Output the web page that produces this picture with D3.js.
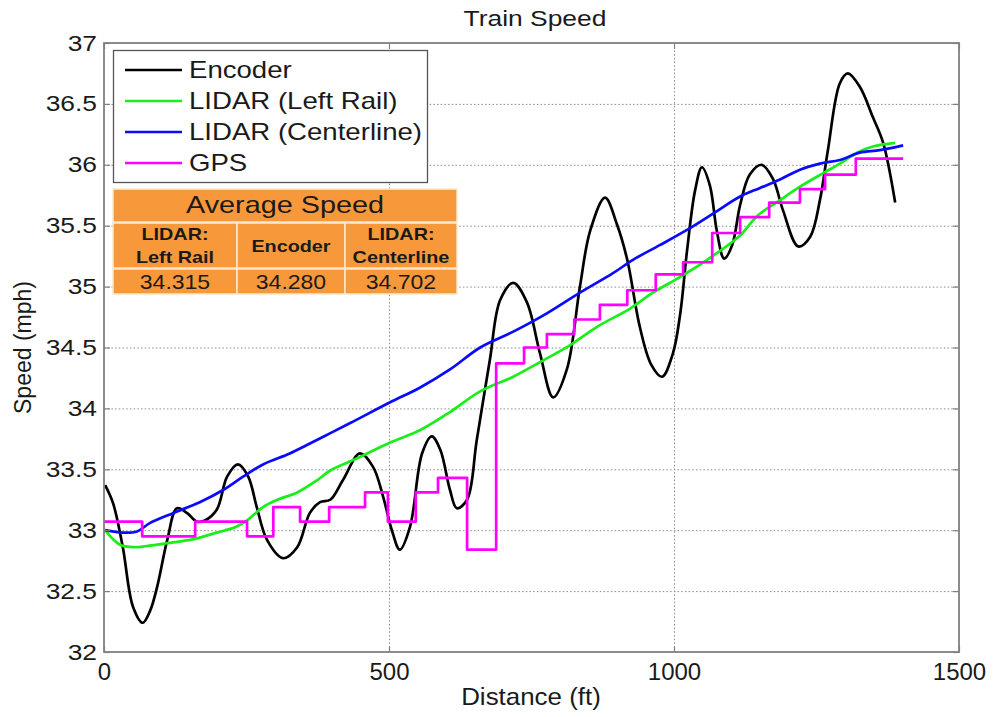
<!DOCTYPE html>
<html>
<head>
<meta charset="utf-8">
<script src="https://cdn.jsdelivr.net/npm/d3@7"></script>
<style>
  html, body { margin: 0; padding: 0; background: #fff; }
  svg { display: block; }
  text { font-family: Arial, "Liberation Sans", Helvetica, sans-serif; fill: #1a1a1a; }
</style>
</head>
<body>
<svg id="chart" width="994" height="717"></svg>
<script>
// ---- data ----
const distanceTicks = [0, 500, 1000, 1500];
const speedTicks = [32, 32.5, 33, 33.5, 34, 34.5, 35, 35.5, 36, 36.5, 37];

const encoderDist = [2,16,33,51,68,81,93,111,128,146,163,177,198,216,235,253,268,286,314,339,361,379,397,419,449,472,490,505,519,537,558,575,590,607,619,637,654,677,695,718,742,765,788,812,835,853,879,900,918,940,960,979,998,1011,1023,1037,1049,1063,1075,1088,1102,1116,1133,1154,1174,1191,1218,1239,1256,1270,1291,1305,1326,1349,1367,1388];
const encoderSpeed = [33.37,33.22,32.86,32.37,32.24,32.34,32.53,32.92,33.18,33.14,33.07,33.08,33.17,33.44,33.54,33.44,33.19,32.92,32.77,32.86,33.14,33.23,33.25,33.41,33.63,33.52,33.27,33.00,32.84,33.03,33.63,33.77,33.66,33.33,33.18,33.25,33.74,34.40,34.89,35.03,34.87,34.45,34.09,34.32,35.00,35.46,35.73,35.51,35.22,34.67,34.36,34.26,34.45,34.78,35.30,35.79,35.98,35.83,35.46,35.23,35.34,35.67,35.92,36.00,35.88,35.63,35.33,35.41,35.71,36.12,36.67,36.75,36.64,36.39,36.18,35.69];

const leftRailDist = [2,28,54,75,121,151,198,233,251,279,304,339,374,397,444,502,554,607,660,718,765,818,865,923,963,1011,1058,1116,1146,1186,1221,1261,1291,1321,1349,1388];
const leftRailSpeed = [33.00,32.88,32.86,32.87,32.90,32.92,32.98,33.03,33.08,33.19,33.25,33.31,33.41,33.49,33.59,33.72,33.82,33.97,34.14,34.26,34.38,34.52,34.67,34.82,34.95,35.08,35.22,35.42,35.58,35.71,35.82,35.93,36.01,36.10,36.15,36.18];

const centerDist = [2,33,58,81,121,168,209,244,279,326,356,390,432,502,554,607,660,718,777,835,893,928,975,1028,1072,1116,1151,1186,1221,1256,1291,1326,1361,1402];
const centerSpeed = [33.00,32.98,32.99,33.06,33.14,33.23,33.33,33.44,33.54,33.63,33.70,33.78,33.88,34.05,34.17,34.32,34.50,34.63,34.78,34.95,35.11,35.22,35.34,35.48,35.61,35.74,35.81,35.88,35.96,36.01,36.04,36.10,36.12,36.16];

// GPS speed holds its value until the next fix
const gpsDist = [0,67,160,251,297,344,395,458,498,547,586,637,688,737,777,825,870,918,968,1016,1067,1116,1167,1221,1265,1319,1402];
const gpsSpeed = [33.07,32.95,33.07,32.95,33.19,33.07,33.19,33.31,33.07,33.31,33.43,32.84,34.37,34.50,34.61,34.73,34.85,34.97,35.10,35.20,35.44,35.57,35.69,35.80,35.92,36.05,36.05];

const seriesNames = ["Encoder", "LIDAR (Left Rail)", "LIDAR (Centerline)", "GPS"];
const seriesColors = ["#000000", "#1aee1a", "#0a0aff", "#ff00ff"];

const avgTitle = "Average Speed";
const avgHeaders = [["LIDAR:", "Left Rail"], ["Encoder"], ["LIDAR:", "Centerline"]];
const avgValues = ["34.315", "34.280", "34.702"];

// ---- layout ----
const W = 994, H = 717;
const plot = { left: 104, right: 959, top: 43, bottom: 652 };
const svg = d3.select("#chart");

const x = d3.scaleLinear().domain([0, 1500]).range([plot.left, plot.right]);
const y = d3.scaleLinear().domain([32, 37]).range([plot.bottom, plot.top]);

// horizontal widening of glyphs around their anchor point
function widen(sel, sx) {
  sel.each(function () {
    const t = d3.select(this);
    const ax = +t.attr("x") || 0;
    t.attr("transform", `translate(${ax * (1 - sx)},0) scale(${sx},1)`);
  });
}

svg.append("rect").attr("width", W).attr("height", H).attr("fill", "#fff");

// grid
const grid = svg.append("g")
  .attr("stroke", "#8a8a8a").attr("stroke-width", 1).attr("stroke-dasharray", "1.5,2.2");
grid.selectAll(".gy").data(speedTicks.slice(1, -1)).join("line")
  .attr("x1", plot.left).attr("x2", plot.right)
  .attr("y1", d => y(d) + 0.5).attr("y2", d => y(d) + 0.5);
grid.selectAll(".gx").data(distanceTicks.slice(1, -1)).join("line")
  .attr("y1", plot.top).attr("y2", plot.bottom)
  .attr("x1", d => x(d) + 0.5).attr("x2", d => x(d) + 0.5);

// series
const lineGen = d3.line().x(d => x(d[0])).y(d => y(d[1])).curve(d3.curveCatmullRom.alpha(0.5));
const stepGen = d3.line().x(d => x(d[0])).y(d => y(d[1])).curve(d3.curveStepAfter);
const zip = (a, b) => a.map((v, i) => [v, b[i]]);

const seriesData = [
  { pts: zip(encoderDist, encoderSpeed), gen: lineGen },
  { pts: zip(leftRailDist, leftRailSpeed), gen: lineGen },
  { pts: zip(centerDist, centerSpeed), gen: lineGen },
  { pts: zip(gpsDist, gpsSpeed), gen: stepGen }
];
svg.append("g").selectAll("path").data(seriesData).join("path")
  .attr("d", d => d.gen(d.pts))
  .attr("fill", "none")
  .attr("stroke", (d, i) => seriesColors[i])
  .attr("stroke-width", 2.7)
  .attr("stroke-linejoin", "round");

// axes (inward ticks on all four sides)
const axisColor = "#808080";
function styleAxis(g) {
  g.select(".domain").remove();
  g.selectAll(".tick line").attr("stroke", axisColor).attr("stroke-width", 1.2);
}
const yAxisL = svg.append("g").attr("transform", `translate(${plot.left},0)`)
  .call(d3.axisLeft(y).tickValues(speedTicks).tickFormat(d3.format("")).tickSize(-6).tickPadding(7));
styleAxis(yAxisL);
yAxisL.selectAll("text").attr("font-size", 22).attr("fill", "#1a1a1a")
  .style("font-family", "Arial, 'Liberation Sans', sans-serif").call(widen, 1.2);

const yAxisR = svg.append("g").attr("transform", `translate(${plot.right},0)`)
  .call(d3.axisRight(y).tickValues(speedTicks).tickFormat("").tickSize(-6));
styleAxis(yAxisR);

const xAxisB = svg.append("g").attr("transform", `translate(0,${plot.bottom})`)
  .call(d3.axisBottom(x).tickValues(distanceTicks).tickFormat(d3.format("")).tickSize(-6).tickPadding(11));
styleAxis(xAxisB);
xAxisB.selectAll("text").attr("font-size", 24).attr("fill", "#1a1a1a")
  .style("font-family", "Arial, 'Liberation Sans', sans-serif");

const xAxisT = svg.append("g").attr("transform", `translate(0,${plot.top})`)
  .call(d3.axisTop(x).tickValues(distanceTicks).tickFormat("").tickSize(-6));
styleAxis(xAxisT);

svg.append("rect")
  .attr("x", plot.left).attr("y", plot.top)
  .attr("width", plot.right - plot.left).attr("height", plot.bottom - plot.top)
  .attr("fill", "none").attr("stroke", axisColor).attr("stroke-width", 1.8);

// titles
svg.append("text").attr("x", 535).attr("y", 26).attr("text-anchor", "middle")
  .attr("font-size", 22).text("Train Speed").call(widen, 1.2);
svg.append("text").attr("x", 531).attr("y", 705).attr("text-anchor", "middle")
  .attr("font-size", 24).text("Distance (ft)").call(widen, 1.08);
svg.append("text").attr("transform", `translate(31,${(plot.top + plot.bottom) / 2}) rotate(-90)`)
  .attr("text-anchor", "middle").attr("font-size", 23).text("Speed (mph)");

// legend
const legend = svg.append("g");
legend.append("rect").attr("x", 113.5).attr("y", 50.5).attr("width", 314).attr("height", 132)
  .attr("fill", "#fff").attr("stroke", "#555").attr("stroke-width", 1.3);
const rows = legend.selectAll(".row").data(seriesNames).join("g")
  .attr("transform", (d, i) => `translate(0,${70 + i * 31})`);
rows.append("line").attr("x1", 125).attr("x2", 182).attr("y1", 0).attr("y2", 0)
  .attr("stroke", (d, i) => seriesColors[i]).attr("stroke-width", 2.6);
rows.append("text").attr("x", 189).attr("y", 8).attr("font-size", 23).text(d => d).call(widen, 1.2);

// average speed table
const table = svg.append("g");
const orange = "#f7993a";
const tx0 = 113, tx1 = 457;
const colEdges = [113, 237, 345, 457];
table.append("rect").attr("x", tx0).attr("y", 189).attr("width", tx1 - tx0).attr("height", 33)
  .attr("fill", orange).attr("stroke", "#fde7cf").attr("stroke-width", 1.5);
table.append("text").attr("x", (tx0 + tx1) / 2).attr("y", 213).attr("text-anchor", "middle")
  .attr("font-size", 24).text(avgTitle).call(widen, 1.2);

avgHeaders.forEach((lines, i) => {
  const cx0 = colEdges[i], cx1 = colEdges[i + 1], cx = (cx0 + cx1) / 2;
  table.append("rect").attr("x", cx0).attr("y", 223).attr("width", cx1 - cx0).attr("height", 45)
    .attr("fill", orange).attr("stroke", "#fde7cf").attr("stroke-width", 1.5);
  table.append("rect").attr("x", cx0).attr("y", 269).attr("width", cx1 - cx0).attr("height", 25)
    .attr("fill", orange).attr("stroke", "#fde7cf").attr("stroke-width", 1.5);
  const base = lines.length === 1 ? 252 : 240;
  lines.forEach((ln, j) => {
    table.append("text").attr("x", cx).attr("y", base + j * 23).attr("text-anchor", "middle")
      .attr("font-size", 16.5).attr("font-weight", "bold").text(ln).call(widen, 1.2);
  });
  table.append("text").attr("x", cx).attr("y", 289).attr("text-anchor", "middle")
    .attr("font-size", 20).text(avgValues[i]).call(widen, 1.15);
});
</script>
</body>
</html>
